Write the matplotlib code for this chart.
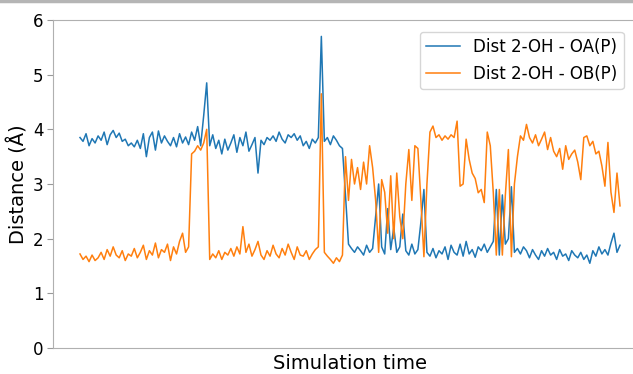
import numpy as np
import matplotlib.pyplot as plt
from matplotlib.lines import Line2D

# distance 2-OH to OA(P), sampled along the trajectory
dist_oa = [3.85, 3.78, 3.92, 3.70, 3.83, 3.75, 3.88, 3.80, 3.95, 3.72, 3.90, 3.98,
           3.85, 3.93, 3.78, 3.82, 3.70, 3.75, 3.68, 3.80, 3.65, 3.92, 3.50, 3.85,
           3.95, 3.62, 3.97, 3.75, 3.88, 3.78, 3.70, 3.85, 3.68, 3.92, 3.75, 3.86,
           3.72, 3.95, 3.80, 4.05, 3.70, 4.25,
           4.85,
           3.70, 3.90, 3.65, 3.80, 3.55, 3.82, 3.62, 3.75, 3.90, 3.58, 3.85, 3.70,
           3.95, 3.60, 3.72, 3.85,
           3.20,
           3.80, 3.72, 3.85, 3.80, 3.88, 3.78, 3.95, 3.82, 3.75, 3.90, 3.85, 3.92,
           3.80, 3.88, 3.70, 3.78, 3.65, 3.82, 3.75, 3.85,
           5.70,
           3.78, 3.85, 3.72, 3.88, 3.80, 3.70,
           3.65,
           2.80, 1.90, 1.82, 1.75, 1.85, 1.78, 1.70, 1.88, 1.75, 1.82, 2.40, 3.00,
           1.85, 1.72, 2.55, 1.80, 2.20, 1.75, 1.85, 2.45, 1.78, 1.70, 1.90, 1.72,
           1.80, 2.30, 2.90, 1.75, 1.68, 1.82, 1.65, 1.78, 1.72, 1.85, 1.62, 1.88,
           1.75, 1.70, 1.90, 1.68, 1.95, 1.72, 1.80, 1.66, 1.85, 1.78, 1.90, 1.75,
           1.85, 1.95, 2.90, 1.70, 2.80, 1.90, 2.00, 2.95, 1.75, 1.82, 1.72, 1.85,
           1.78, 1.65, 1.80, 1.70, 1.62, 1.78, 1.68, 1.82, 1.70, 1.75, 1.62, 1.80,
           1.68, 1.72, 1.60, 1.78, 1.70, 1.65, 1.75, 1.62, 1.70, 1.55, 1.78, 1.68,
           1.85, 1.72, 1.80, 1.70, 1.92, 2.10, 1.75, 1.88]

# distance 2-OH to OB(P)
dist_ob = [1.72, 1.62, 1.68, 1.58, 1.70, 1.60, 1.65, 1.75, 1.62, 1.80, 1.68, 1.85,
           1.70, 1.65, 1.78, 1.60, 1.72, 1.68, 1.82, 1.65, 1.75, 1.88, 1.62, 1.78,
           1.70, 1.92, 1.65, 1.80, 1.75, 1.90, 1.60, 1.85, 1.72, 1.95, 2.10, 1.75,
           1.85, 3.55, 3.60, 3.70, 3.62, 3.75, 4.00, 1.62,
           1.72, 1.65, 1.78, 1.62, 1.75, 1.70, 1.82, 1.68, 1.85, 1.72, 2.22, 1.75,
           1.90, 1.68, 1.80, 1.95, 1.70, 1.62, 1.78, 1.68, 1.88, 1.72, 1.65, 1.82,
           1.70, 1.90, 1.75, 1.62, 1.85, 1.70, 1.68, 1.78, 1.62, 1.72, 1.80,
           1.85, 4.65, 1.75,
           1.68, 1.62, 1.55, 1.65, 1.58, 1.70,
           3.50, 2.70, 3.45, 3.00, 3.30, 2.90, 3.40, 3.00, 3.70, 3.30, 2.70, 1.75,
           3.08, 2.85, 2.10, 3.15, 2.00, 3.20, 2.40, 2.00, 3.00, 3.63, 2.70, 3.70,
           3.65, 2.70, 1.67, 3.00, 3.95, 4.06, 3.85, 3.90, 3.80, 3.88, 3.82, 3.90,
           3.85, 4.15, 2.96, 3.00, 3.82, 3.45, 3.20, 3.10, 2.84, 2.90, 2.66, 3.95,
           3.70, 2.84, 1.70, 2.90, 1.70, 2.80, 3.63, 1.67, 3.00, 3.50, 3.88, 3.80,
           4.09, 3.85, 3.75, 3.90, 3.70, 3.82, 3.95, 3.63, 3.85, 3.60, 3.50, 3.65,
           3.27, 3.70, 3.45, 3.55, 3.62, 3.40, 3.08, 3.85, 3.88, 3.70, 3.78, 3.55,
           3.60, 3.33, 2.96, 3.76, 2.85, 2.48, 3.20, 2.60]

labels = ['Dist 2-OH - OA(P)', 'Dist 2-OH - OB(P)']

t = np.arange(len(dist_oa))

fig = plt.figure(figsize=(6.33, 3.74), dpi=100)
ax = fig.add_axes([53/633, 26/374, 594/633, 328/374])

ax.plot(t, dist_oa, color='#1f77b4', lw=1.1, label=labels[0])
ax.plot(t, dist_ob, color='#ff7f0e', lw=1.1, label=labels[1])

ax.set_ylim(0, 6)
ax.set_xticks([])
ax.set_yticks(range(7))
ax.tick_params(axis='y', labelsize=12, color='#999999', length=4, pad=3)
for s in ax.spines.values():
    s.set_color('#b0b0b0')

ax.set_ylabel('Distance (Å)', fontsize=14, labelpad=3)
ax.set_xlabel('Simulation time', fontsize=14, labelpad=4)
ax.legend(loc='upper right', fontsize=12, bbox_to_anchor=(0.975, 0.99))

# grey border line at the top of the picture
fig.add_artist(Line2D([0, 1], [0.997, 0.997], color='#b5b5b5', lw=2.5))

fig.savefig('out.png', dpi=100)
